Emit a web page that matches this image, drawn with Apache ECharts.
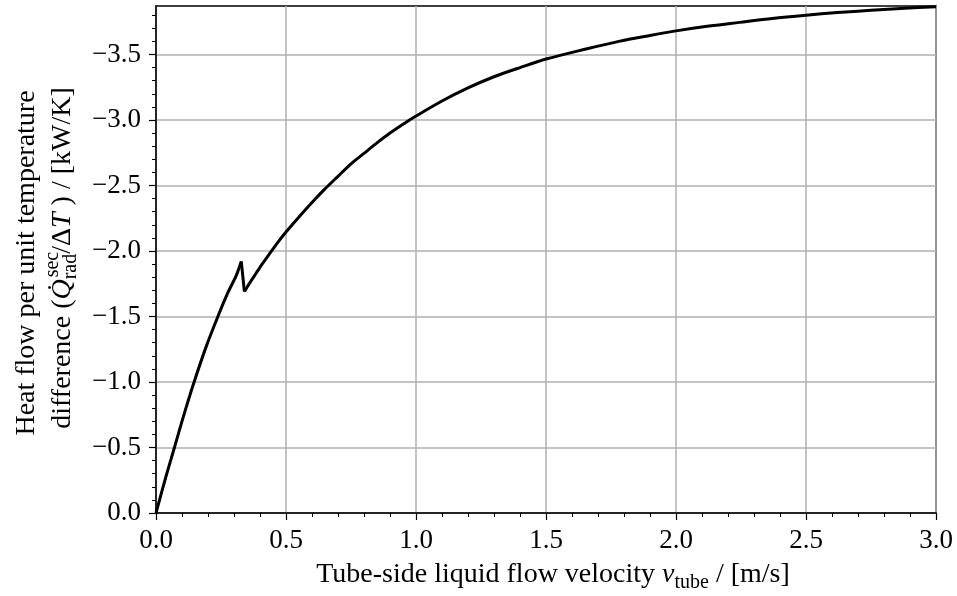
<!DOCTYPE html>
<html>
<head>
<meta charset="utf-8">
<script src="https://cdn.jsdelivr.net/npm/echarts@6/dist/echarts.min.js"></script>
<style>
  html, body { margin: 0; padding: 0; background: #fff; }
  #chart { width: 957px; height: 596px; }
</style>
</head>
<body>
<div id="chart"></div>
<script>
// tube-side velocity [m/s]
const velocity = [
  0, 0.04, 0.071, 0.103, 0.145, 0.193, 0.238, 0.276, 0.308, 0.328,
  0.34, 0.36, 0.385, 0.41, 0.437, 0.47, 0.5, 0.55, 0.6, 0.648,
  0.7, 0.75, 0.8, 0.85, 0.9, 0.956, 1.0, 1.1, 1.2, 1.3,
  1.4, 1.5, 1.65, 1.78, 1.9, 2.0, 2.12, 2.244, 2.37, 2.5,
  2.62, 2.75, 2.88, 3.0
]
// heat flow per unit temperature difference [kW/K]
const heatFlow = [
  0, -0.29, -0.5, -0.72, -0.99, -1.27, -1.5, -1.68, -1.81, -1.92,
  -1.69, -1.755, -1.83, -1.905, -1.98, -2.07, -2.145, -2.26, -2.37, -2.47,
  -2.57, -2.665, -2.745, -2.825, -2.9, -2.975, -3.03, -3.145, -3.245, -3.33,
  -3.4, -3.465, -3.54, -3.6, -3.645, -3.68, -3.715, -3.745, -3.775, -3.8,
  -3.82, -3.837, -3.852, -3.865
]
const kinkIndex = 9 // last point before the sudden drop
const yMajorTicks = [0, 0.5, 1.0, 1.5, 2.0, 2.5, 3.0, 3.5]
const yLimit = 3.87

const FONT = 'Liberation Serif'
const TITLE = 28
const SMALL = 20
const minus = (v) => (v === 0 ? '0.0' : '\u2212' + v.toFixed(1))

// minor y ticks every 0.1, skipping the major ones
const yMinorTicks = []
for (let i = 1; i * 0.1 < yLimit; i++) {
  if (i % 5 !== 0) yMinorTicks.push(+(i * 0.1).toFixed(1))
}

// measure text so the stacked sub/superscripts can be laid out by hand
const measure = document.createElement('canvas').getContext('2d')
function textWidth(str, size, italic) {
  measure.font = (italic ? 'italic ' : '') + size + 'px "' + FONT + '"'
  return measure.measureText(str).width
}

function textEl(t, x, y, size, italic) {
  return {
    type: 'text',
    x, y,
    style: {
      text: t,
      fontFamily: FONT,
      fontSize: size,
      fontStyle: italic ? 'italic' : 'normal',
      fill: '#000',
      align: 'left',
      verticalAlign: 'middle',
    },
  }
}

// pieces: {t, s, it, dy} or {stack: [...]} -> children centred on 0
function layoutRun(pieces) {
  const widths = pieces.map((p) =>
    p.stack ? Math.max(...p.stack.map((q) => textWidth(q.t, q.s, q.it))) : textWidth(p.t, p.s, p.it)
  )
  const total = widths.reduce((a, b) => a + b, 0)
  let x = -total / 2
  const children = []
  pieces.forEach((p, i) => {
    if (p.stack) {
      p.stack.forEach((q) => children.push(textEl(q.t, x + (q.dx || 0), q.dy || 0, q.s, q.it)))
    } else {
      children.push(textEl(p.t, x, p.dy || 0, p.s, p.it))
    }
    x += widths[i]
  })
  return children
}

const yTitle2 = layoutRun([
  { t: 'difference (', s: TITLE },
  { t: 'Q\u0307', s: TITLE, it: true },
  { stack: [{ t: 'sec', s: SMALL, dy: -10, dx: 2 }, { t: 'rad', s: SMALL, dy: 8 }] },
  { t: '/\u0394', s: TITLE },
  { t: 'T', s: TITLE, it: true },
  { t: ' ) / [kW/K]', s: TITLE },
])

const xTitle = layoutRun([
  { t: 'Tube-side liquid flow velocity ', s: TITLE },
  { t: 'v', s: TITLE, it: true },
  { t: 'tube', s: SMALL, dy: 8 },
  { t: ' / [m/s]', s: TITLE },
])

const chart = echarts.init(document.getElementById('chart'))

const labelStyle = { fontFamily: FONT, fontSize: 27, color: '#000' }
const curveStyle = { color: '#000', width: 3 }
const points = velocity.map((v, i) => [v, -heatFlow[i]]) // plotted as magnitude

chart.setOption({
  animation: false,
  backgroundColor: '#fff',
  grid: {
    left: 156, top: 6, right: 21, bottom: 83,
    show: true, borderColor: '#000', borderWidth: 1.5,
  },
  xAxis: {
    type: 'value',
    min: 0, max: 3, interval: 0.5,
    axisLine: { lineStyle: { color: '#000', width: 1.5 } },
    axisTick: { length: 7, lineStyle: { color: '#000', width: 1.2 } },
    minorTick: { show: true, splitNumber: 5, length: 4, lineStyle: { color: '#000', width: 1 } },
    axisLabel: { ...labelStyle, margin: 14, formatter: (v) => v.toFixed(1) },
    splitLine: { lineStyle: { color: '#b0b0b0', width: 1.5 } },
  },
  yAxis: [
    {
      type: 'value',
      min: 0, max: yLimit, interval: 0.5,
      axisLine: { show: true, lineStyle: { color: '#000', width: 1.5 } },
      axisTick: { show: true, length: 7, customValues: yMajorTicks, lineStyle: { color: '#000', width: 1.2 } },
      axisLabel: { ...labelStyle, margin: 15, customValues: yMajorTicks, formatter: minus },
      splitLine: { lineStyle: { color: '#b0b0b0', width: 1.5 } },
    },
    {
      type: 'value',
      position: 'left',
      min: 0, max: yLimit,
      axisLine: { show: false },
      axisTick: { show: true, length: 4, customValues: yMinorTicks, lineStyle: { color: '#000', width: 1 } },
      axisLabel: { show: false },
      splitLine: { show: false },
    },
  ],
  graphic: [
    {
      type: 'group', x: 27, y: 263, rotation: Math.PI / 2,
      children: [{
        type: 'text', x: 0, y: 0,
        style: {
          text: 'Heat flow per unit temperature',
          fontFamily: FONT, fontSize: TITLE, fill: '#000',
          align: 'center', verticalAlign: 'middle',
        },
      }],
    },
    { type: 'group', x: 63, y: 258, rotation: Math.PI / 2, children: yTitle2 },
    { type: 'group', x: 553, y: 575, children: xTitle },
  ],
  series: [
    {
      type: 'line',
      data: points.slice(0, kinkIndex + 1),
      smooth: 0.3,
      showSymbol: false,
      lineStyle: curveStyle,
      z: 5,
    },
    {
      type: 'line',
      data: points.slice(kinkIndex, kinkIndex + 2),
      showSymbol: false,
      lineStyle: curveStyle,
      z: 5,
    },
    {
      type: 'line',
      data: points.slice(kinkIndex + 1),
      smooth: 0.3,
      showSymbol: false,
      lineStyle: curveStyle,
      z: 5,
    },
  ],
})
</script>
</body>
</html>
